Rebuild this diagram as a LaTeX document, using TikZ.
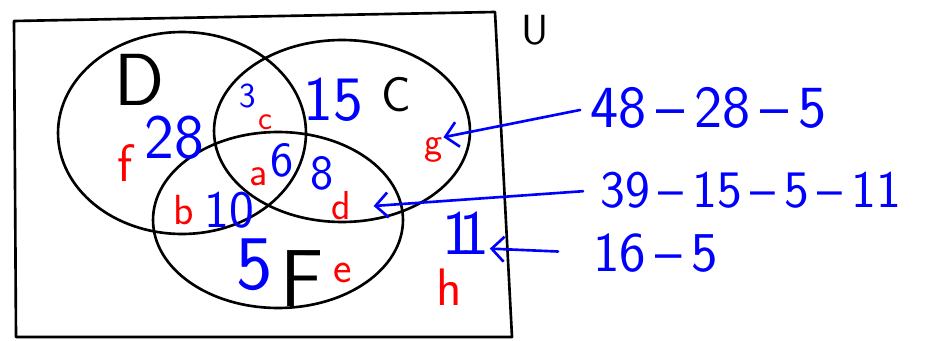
\documentclass[tikz,border=0pt]{standalone}
\usetikzlibrary{arrows.meta, positioning}

\begin{document}
\begin{tikzpicture}[
    x=0.02cm, y=-0.02cm,
    frame/.style={draw=black, line width=1.5pt, line join=round},
    setname/.style={font=\sffamily\fontsize{#1}{#1}\selectfont, text=black, inner sep=0pt},
    count/.style={font=\sffamily\fontsize{#1}{#1}\selectfont, text=blue, inner sep=0pt},
    region/.style={font=\sffamily\fontsize{#1}{#1}\selectfont, text=red, inner sep=0pt},
    calc/.style={font=\sffamily\fontsize{#1}{#1}\selectfont, text=blue, inner sep=0pt, anchor=west},
    hand/.style={draw=blue, line width=1.5pt, line cap=round, -{Straight Barb[length=2.5mm, width=5mm]}}
]
    \useasboundingbox (0,0) rectangle (942,341);

    % universe and the three sets
    \draw[frame] (14,21) -- (495,12) -- (512,337) -- (16,337) -- cycle;
    \draw[frame] (182,133) ellipse [x radius=2.48cm, y radius=2.02cm];
    \draw[frame] (342,131) ellipse [x radius=2.56cm, y radius=1.82cm];
    \draw[frame] (278,220) ellipse [x radius=2.5cm, y radius=1.76cm];

    \node[setname=42] (D) at (140,80) {D};
    \node[setname=28] (C) at (396,95) {C};
    \node[setname=46] (F) at (302,279) {F};
    \node[setname=24] (U) at (535,30) {U};

    % counts
    \node[count=36] (n28) at (174,138) {28};
    \node[count=20] (n3) at (248,96) {3};
    \node[count=36] (n15) at (333,100) {15};
    \node[count=28] (n6) at (282,160) {6};
    \node[count=28] (n8) at (322,173) {8};
    \node[count=30] (n10) at (229,210) {10};
    \node[count=44] (n5) at (255,265) {5};
    \node[count=36] (n11) at (466,233) {1\kern-0.2em1};

    % region letters
    \node[region=19, below right=0.12cm and 0.04cm of n3] (c) {c};
    \node[region=30] (f) at (125,163) {f};
    \node[region=23] (a) at (259,177) {a};
    \node[region=24, left=0.2cm of n10] (b) {b};
    \node[region=23] (d) at (341,206) {d};
    \node[region=22] (g) at (434,150) {g};
    \node[region=25] (e) at (343,273) {e};
    \node[region=30] (h) at (449,287) {h};

    % working on the right
    \node[calc=34] (calcg) at (590,108) {48\,--\,28\,--\,5};
    \node[calc=30] (calcd) at (600,190) {39\,--\,15\,--\,5\,--\,11};
    \node[calc=32] (calch) at (593,253) {16\,--\,5};

    \draw[hand, shorten <=0.2cm] (calcg.west) -- (g.north east);
    \draw[hand, shorten <=0.34cm] (calcd.west) -- ([xshift=0.45cm, yshift=0cm]d.east);
    \draw[hand, shorten <=0.7cm] (calch.west) -- ([yshift=0.12cm]n11.south east);
\end{tikzpicture}
\end{document}
